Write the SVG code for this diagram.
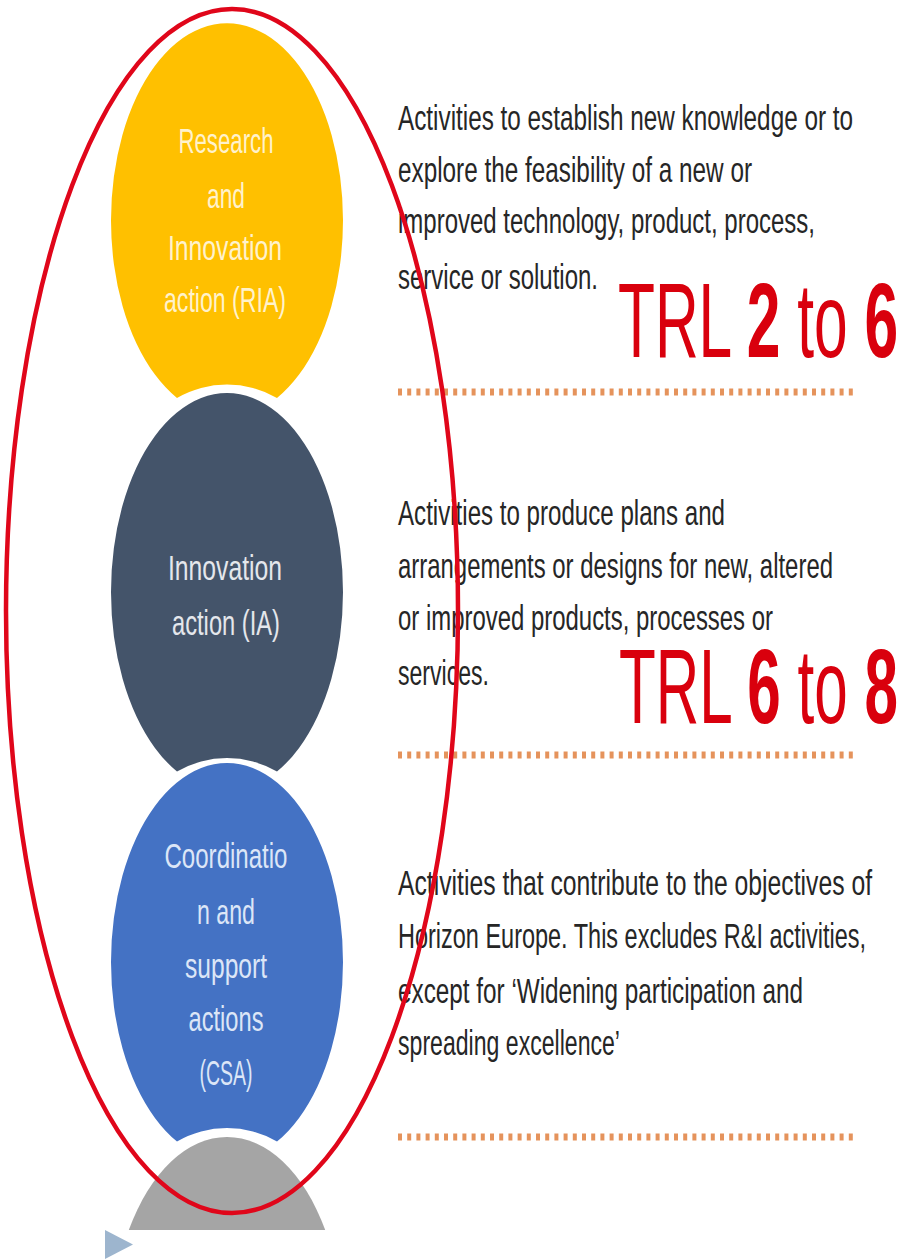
<svg xmlns="http://www.w3.org/2000/svg" width="904" height="1260" viewBox="0 0 904 1260">
<style>
.lbl{font-family:"Liberation Sans",Arial,sans-serif;font-size:35px;text-anchor:middle}
.para{font-family:"Liberation Sans",Arial,sans-serif;font-size:35px;fill:#262626}
.trl{font-family:"Liberation Sans",Arial,sans-serif;font-size:105px;fill:#D9000D}
.dots{stroke:#E5935C;stroke-width:7;stroke-dasharray:4 5.2;fill:none}
</style>
<rect width="904" height="1260" fill="#ffffff"/>
<g id="node-ria">
<path d="M177,398 A116,197 0 1 1 277,398 A100,100 0 0 0 177,398 Z" fill="#FFC000"/>
<g class="lbl" fill="#FFF2CC">
<text x="226" y="153" textLength="95" lengthAdjust="spacingAndGlyphs">Research</text>
<text x="226" y="208" textLength="38" lengthAdjust="spacingAndGlyphs">and</text>
<text x="225" y="260" textLength="114" lengthAdjust="spacingAndGlyphs">Innovation</text>
<text x="225" y="312" textLength="122" lengthAdjust="spacingAndGlyphs">action (RIA)</text>
</g>
</g>
<g id="node-ia">
<path d="M177,771.5 A116,199 0 1 1 277,771.5 A100,100 0 0 0 177,771.5 Z" fill="#44546A"/>
<g class="lbl" fill="#E4E7EC">
<text x="225" y="580" textLength="114" lengthAdjust="spacingAndGlyphs">Innovation</text>
<text x="226" y="635" textLength="108" lengthAdjust="spacingAndGlyphs">action (IA)</text>
</g>
</g>
<g id="node-csa">
<path d="M177,1141.5 A116,199 0 1 1 277,1141.5 A100,100 0 0 0 177,1141.5 Z" fill="#4472C4"/>
<g class="lbl" fill="#DCE6F7">
<text x="226" y="868" textLength="123" lengthAdjust="spacingAndGlyphs">Coordinatio</text>
<text x="226" y="924" textLength="58" lengthAdjust="spacingAndGlyphs">n and</text>
<text x="226" y="978" textLength="82" lengthAdjust="spacingAndGlyphs">support</text>
<text x="226" y="1031" textLength="75" lengthAdjust="spacingAndGlyphs">actions</text>
<text x="226" y="1085" textLength="53" lengthAdjust="spacingAndGlyphs">(CSA)</text>
</g>
</g>
<g id="node-gray">
<path d="M128.8,1230 A116,199 0 0 1 325.2,1230 Z" fill="#A5A5A5"/>
</g>
<g id="bullet">
<polygon points="105,1230 133,1244.5 105,1259" fill="#9DB5CE"/>
</g>
<g id="desc-ria">
<text class="para" x="398" y="130" textLength="455" lengthAdjust="spacingAndGlyphs">Activities to establish new knowledge or to</text>
<text class="para" x="398" y="182" textLength="354" lengthAdjust="spacingAndGlyphs">explore the feasibility of a new or</text>
<text class="para" x="398" y="233" textLength="417" lengthAdjust="spacingAndGlyphs">improved technology, product, process,</text>
<text class="para" x="398" y="289" textLength="200" lengthAdjust="spacingAndGlyphs">service or solution.</text>
<text class="trl" x="618" y="357" textLength="280" lengthAdjust="spacingAndGlyphs">TRL <tspan font-weight="bold">2</tspan> to <tspan font-weight="bold">6</tspan></text>
<line class="dots" x1="398" y1="392" x2="857" y2="392"/>
</g>
<g id="desc-ia">
<text class="para" x="398" y="525" textLength="327" lengthAdjust="spacingAndGlyphs">Activities to produce plans and</text>
<text class="para" x="398" y="578" textLength="435" lengthAdjust="spacingAndGlyphs">arrangements or designs for new, altered</text>
<text class="para" x="398" y="630" textLength="375" lengthAdjust="spacingAndGlyphs">or improved products, processes or</text>
<text class="para" x="398" y="685" textLength="91" lengthAdjust="spacingAndGlyphs">services.</text>
<text class="trl" x="619" y="723" textLength="279" lengthAdjust="spacingAndGlyphs">TRL <tspan font-weight="bold">6</tspan> to <tspan font-weight="bold">8</tspan></text>
<line class="dots" x1="398" y1="755" x2="857" y2="755"/>
</g>
<g id="desc-csa">
<text class="para" x="398" y="895" textLength="474" lengthAdjust="spacingAndGlyphs">Activities that contribute to the objectives of</text>
<text class="para" x="398" y="948" textLength="468" lengthAdjust="spacingAndGlyphs">Horizon Europe. This excludes R&amp;I activities,</text>
<text class="para" x="398" y="1003" textLength="405" lengthAdjust="spacingAndGlyphs">except for ‘Widening participation and</text>
<text class="para" x="398" y="1055" textLength="222" lengthAdjust="spacingAndGlyphs">spreading excellence’</text>
<line class="dots" x1="398" y1="1137" x2="857" y2="1137"/>
</g>
<g id="connectors">
<ellipse cx="232" cy="611" rx="226" ry="602" fill="none" stroke="#E0061A" stroke-width="4.5"/>
</g>
</svg>
